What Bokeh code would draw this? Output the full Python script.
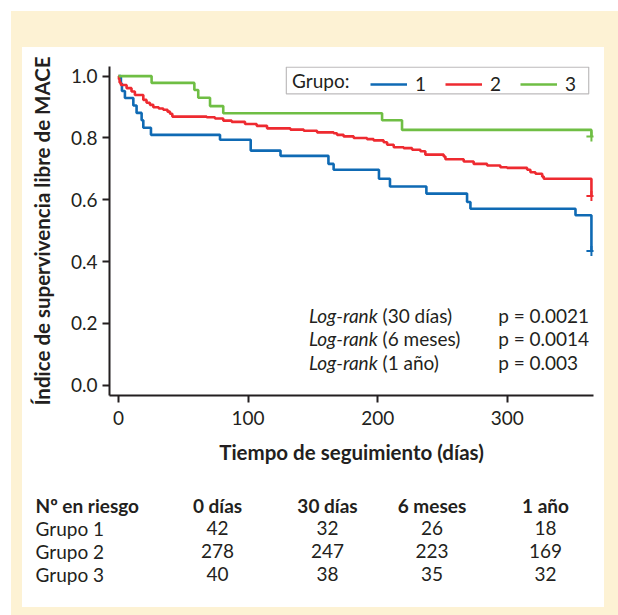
from bokeh.plotting import figure
from bokeh.models import (Range1d, FixedTicker, NumeralTickFormatter, Legend, LegendItem,
                          BoxAnnotation)
from bokeh.layouts import column
from bokeh.embed import file_html
from bokeh.resources import INLINE
from bokeh.core.properties import value

# ---------------- data ----------------
legend_title = "Grupo:"
group_labels = ["1", "2", "3"]
group_colors = ["#0f6ab4", "#ee2a30", "#6fbe44"]

g1_days = [0, 1.8, 2.6, 4.9, 11.4, 13.9, 17.8, 19.1, 25, 78.3, 102, 125, 162, 166,
           201, 209.5, 237.6, 269, 271.6, 352.7, 365]
g1_surv = [1.0, 0.976, 0.952, 0.929, 0.905, 0.881, 0.857, 0.833, 0.810, 0.794, 0.759,
           0.742, 0.716, 0.697, 0.668, 0.643, 0.620, 0.593, 0.571, 0.550, 0.434]

g2_days = [0, 0.3, 0.8, 1.8, 6.2, 10, 12.6, 19.1, 21.6, 24.2, 26.8, 31, 34.5, 37.8,
           39.7, 41.5, 68, 74.4, 80.8, 87.3, 97.6, 106.6, 114.6, 132.6, 142.9, 153.2,
           166, 168.6, 173.7, 181.5, 191.8, 196.9, 204.6, 207.3, 212.4, 220.1, 226.6,
           233, 236.8, 251, 252.3, 266.4, 274.1, 284.5, 294.7, 299.9, 315.4, 317.9,
           321.8, 327, 328.2, 365]
g2_surv = [1.0, 0.99, 0.979, 0.971, 0.961, 0.950, 0.939, 0.923, 0.914, 0.907, 0.899,
           0.895, 0.891, 0.885, 0.878, 0.869, 0.867, 0.863, 0.856, 0.852, 0.845, 0.839,
           0.831, 0.827, 0.823, 0.818, 0.815, 0.810, 0.805, 0.800, 0.796, 0.792, 0.786,
           0.778, 0.770, 0.767, 0.762, 0.757, 0.746, 0.740, 0.731, 0.724, 0.716, 0.711,
           0.705, 0.703, 0.697, 0.689, 0.684, 0.675, 0.668, 0.612]

g3_days = [0, 25.5, 58.5, 61.5, 70.6, 80.8, 203.4, 218.8, 365]
g3_surv = [1.0, 0.978, 0.955, 0.930, 0.903, 0.880, 0.857, 0.826, 0.805]

x_ticks = [0, 100, 200, 300]
y_ticks = [0.0, 0.2, 0.4, 0.6, 0.8, 1.0]

logrank_tests = ["(30 días)", "(6 meses)", "(1 año)"]
logrank_p = ["p = 0.0021", "p = 0.0014", "p = 0.003"]

risk_title = "Nº en riesgo"
risk_headers = ["0 días", "30 días", "6 meses", "1 año"]
risk_rows = ["Grupo 1", "Grupo 2", "Grupo 3"]
risk_values = [[42, 32, 26, 18],
               [278, 247, 223, 169],
               [40, 38, 35, 32]]

# ---------------- style ----------------
FONT = "Lato"
TXT = "#231f20"
BEIGE = "#fdf2d4"
FS = "19px"

p = figure(width=582, height=428, output_backend="svg", toolbar_location=None,
           x_range=Range1d(-7.0, 366.6), y_range=Range1d(-0.033, 1.031),
           min_border_left=87, min_border_right=11, min_border_top=19,
           min_border_bottom=80, background_fill_color="white",
           border_fill_color="white", styles={"background-color": "white"})
p.margin = (36, 14, 0, 11)
p.outline_line_color = None
p.grid.visible = False

for ax in (p.xaxis[0], p.yaxis[0]):
    ax.axis_line_width = 2
    ax.axis_line_color = TXT
    ax.major_tick_line_width = 2
    ax.major_tick_line_color = TXT
    ax.major_tick_in = 0
    ax.major_tick_out = 7
    ax.minor_tick_line_color = None
    ax.major_label_text_font = FONT
    ax.major_label_text_font_size = FS
    ax.major_label_text_color = TXT
    ax.axis_label_text_font = FONT
    ax.axis_label_text_font_size = "20.5px"
    ax.axis_label_text_font_style = "bold"
    ax.axis_label_text_color = TXT

p.xaxis.ticker = FixedTicker(ticks=x_ticks)
p.yaxis.ticker = FixedTicker(ticks=y_ticks)
p.yaxis.formatter = NumeralTickFormatter(format="0.0")
p.xaxis.axis_label = "Tiempo de seguimiento (días)"
p.yaxis.axis_label = "Índice de supervivencia libre de MACE"
p.xaxis.major_label_standoff = 8
p.xaxis.axis_label_standoff = 12
p.yaxis.major_label_standoff = 5
p.yaxis.axis_label_standoff = 14

# legend frame (drawn under everything else)
p.add_layout(BoxAnnotation(left=129.5, right=362.9, bottom=0.9425, top=1.029,
                           fill_alpha=0.0, line_color=TXT, line_width=1.2,
                           level="underlay"))

renderers = []
for days, surv, col in [(g1_days, g1_surv, group_colors[0]),
                        (g2_days, g2_surv, group_colors[1]),
                        (g3_days, g3_surv, group_colors[2])]:
    r = p.step(x=days, y=surv, mode="after", line_color=col, line_width=2.6)
    renderers.append(r)
    p.scatter(x=[days[-1]], y=[surv[-1]], marker="cross", size=10,
              line_color=col, line_width=2)

# log-rank annotations
lr_y = [0.226, 0.151, 0.075]
p.text(x=[200] * 3, y=lr_y, text=["Log-rank"] * 3, text_font=value(FONT),
       text_font_size=FS, text_font_style="italic", text_align="right",
       text_baseline="middle", text_color=TXT)
p.text(x=[203.8] * 3, y=lr_y, text=logrank_tests, text_font=value(FONT),
       text_font_size=FS, text_align="left", text_baseline="middle",
       text_color=TXT)
p.text(x=[293] * 3, y=lr_y, text=logrank_p, text_font=value(FONT),
       text_font_size=FS, text_align="left", text_baseline="middle",
       text_color=TXT)

p.text(x=[133.9], y=[0.986], text=[legend_title], text_font=value(FONT),
       text_font_size=FS, text_align="left", text_baseline="middle",
       text_color=TXT)

legend = Legend(items=[LegendItem(label=l, renderers=[r])
                       for l, r in zip(group_labels, renderers)],
                orientation="horizontal", location=(261, 300))
legend.label_text_font = FONT
legend.label_text_font_size = FS
legend.label_text_color = TXT
legend.glyph_width = 37
legend.glyph_height = 20
legend.label_height = 20
legend.label_width = 10
legend.label_standoff = 8
legend.spacing = 19
legend.padding = 4
legend.margin = 0
legend.border_line_color = None
legend.background_fill_alpha = 0.0
p.add_layout(legend)

# ---------------- at-risk table (own root, full-width frame) ----------------
t = figure(width=582, height=132, output_backend="svg", toolbar_location=None,
           x_range=Range1d(22, 604), y_range=Range1d(607, 475),
           x_axis_type=None, y_axis_type=None, min_border=0,
           min_border_left=0, min_border_right=0, min_border_top=0,
           min_border_bottom=0,
           background_fill_color="white", border_fill_color="white",
           styles={"background-color": "white"})
t.margin = (0, 14, 8, 11)
t.outline_line_color = None

col_x = [217, 327, 431.5, 545]
head_y = 505
row_y = [527.5, 550.5, 573.5]
label_x = 35

t.text(x=[label_x], y=[head_y], text=[risk_title], text_font=value(FONT),
       text_font_size=FS, text_font_style="bold", text_align="left",
       text_baseline="middle", text_color=TXT)
t.text(x=col_x, y=[head_y] * 4, text=risk_headers, text_font=value(FONT),
       text_font_size=FS, text_font_style="bold", text_align="center",
       text_baseline="middle", text_color=TXT)
t.text(x=[label_x] * 3, y=row_y, text=risk_rows, text_font=value(FONT),
       text_font_size=FS, text_align="left", text_baseline="middle",
       text_color=TXT)
cx, cy, ct = [], [], []
for ri, vals in enumerate(risk_values):
    for ci, v in enumerate(vals):
        cx.append(col_x[ci])
        cy.append(row_y[ri])
        ct.append(str(v))
t.text(x=cx, y=cy, text=ct, text_font=value(FONT), text_font_size=FS,
       text_align="center", text_baseline="middle", text_color=TXT)

top_block = column(p, styles={"background-color": BEIGE})
top_block.margin = (11, 0, 0, 11)
bottom_block = column(t, styles={"background-color": BEIGE})
bottom_block.margin = (0, 0, 0, 11)

open("out.html", "w").write(file_html([top_block, bottom_block], INLINE))
